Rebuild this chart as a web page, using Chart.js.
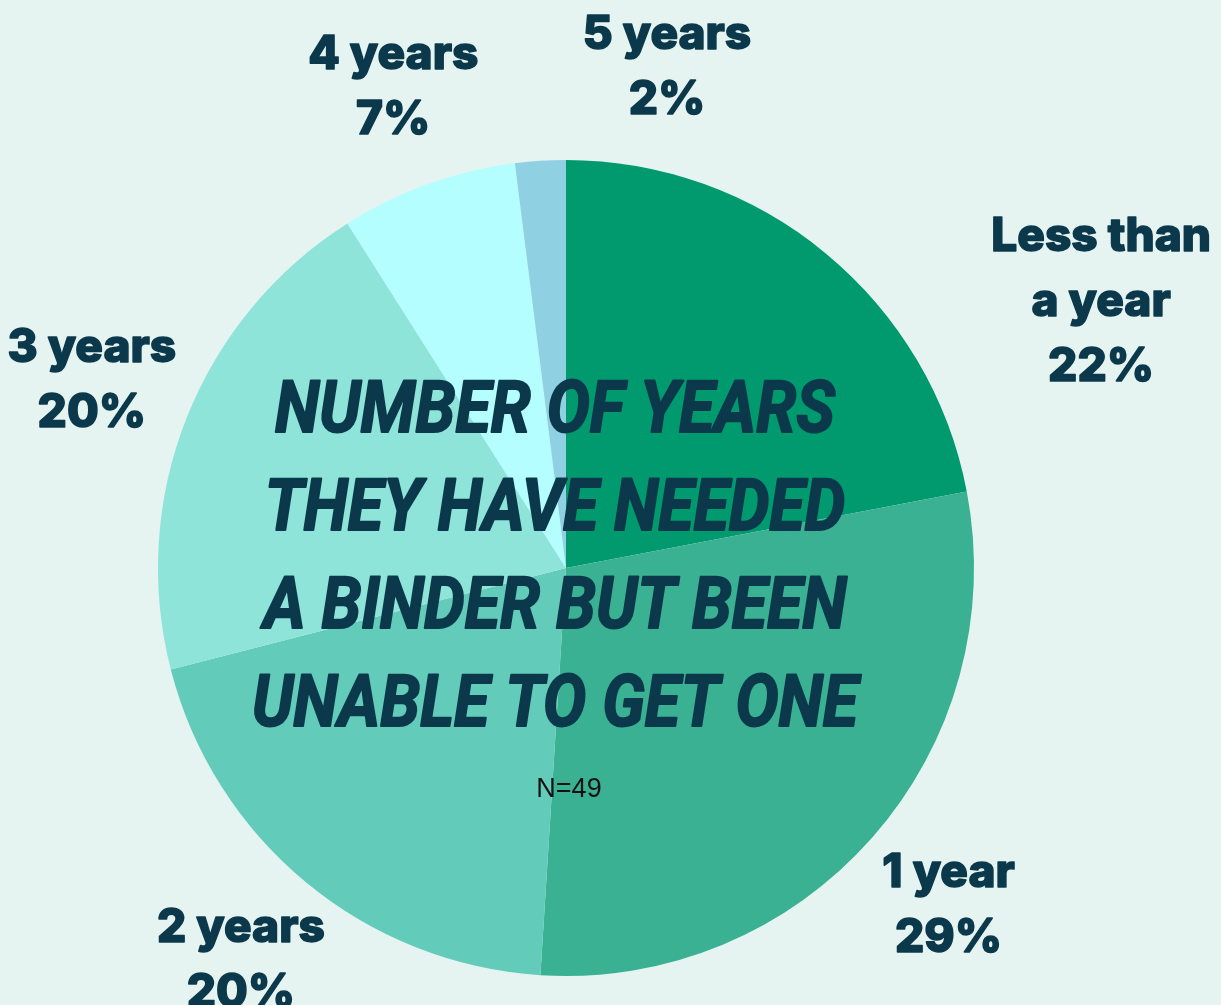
<!DOCTYPE html>
<html>
<head>
<meta charset="utf-8">
<script src="https://cdn.jsdelivr.net/npm/chart.js@4.4.1/dist/chart.umd.min.js"></script>
<style>
  html, body { margin: 0; padding: 0; background: #e5f3f1; }
  #wrap { width: 1221px; height: 1005px; position: relative; }
</style>
</head>
<body>
<div id="wrap"><canvas id="pie"></canvas></div>
<script>
// data
const categories = ['Less than\na year', '1 year', '2 years', '3 years', '4 years', '5 years'];
const percents = [22, 29, 20, 20, 7, 2];
const sliceColors = ['#009a6e', '#3ab193', '#62cbb9', '#8fe4da', '#b4feff', '#8fd1e2'];
const titleLines = ['NUMBER OF YEARS', 'THEY HAVE NEEDED', 'A BINDER BUT BEEN', 'UNABLE TO GET ONE'];
const sampleNote = 'N=49';

// extra nudges for the two labels that were moved off the radial line
const labelNudge = [[210, 127], [0, 0], [0, 0], [0, 0], [0, 0], [133, 9]];

const textColor = '#0b394b';

const outsideLabels = {
    id: 'outsideLabels',
    afterDraw(chart) {
        const ctx = chart.ctx;
        const arcs = chart.getDatasetMeta(0).data;
        const cx = arcs[0].x, cy = arcs[0].y;
        const r = arcs[0].outerRadius;

        // title in the middle of the pie
        ctx.save();
        ctx.fillStyle = textColor;
        ctx.strokeStyle = textColor;
        ctx.lineWidth = 2;
        ctx.lineJoin = 'round';
        ctx.font = 'italic 700 72px Roboto, "DejaVu Sans", sans-serif';
        ctx.textAlign = 'center';
        ctx.textBaseline = 'middle';
        let widest = 0;
        titleLines.forEach(t => { widest = Math.max(widest, ctx.measureText(t).width); });
        const sx = 606 / widest;
        ctx.translate(cx - 11, cy);
        ctx.scale(sx, 1);
        titleLines.forEach((t, i) => {
            ctx.fillText(t, 0, -154 + i * 98);
            ctx.strokeText(t, 0, -154 + i * 98);
        });
        ctx.restore();

        // sample size
        ctx.save();
        ctx.fillStyle = '#111';
        ctx.font = '27px "Liberation Sans", Arial, sans-serif';
        ctx.textAlign = 'center';
        ctx.textBaseline = 'middle';
        ctx.fillText(sampleNote, cx + 3, cy + 222);
        ctx.restore();

        // slice labels outside the pie
        ctx.save();
        ctx.fillStyle = textColor;
        ctx.strokeStyle = textColor;
        ctx.lineWidth = 1.5;
        ctx.lineJoin = 'round';
        ctx.font = '800 46px Inter, "DejaVu Sans", sans-serif';
        ctx.textAlign = 'center';
        ctx.textBaseline = 'middle';
        arcs.forEach((arc, i) => {
            const mid = (arc.startAngle + arc.endAngle) / 2;
            const x = cx + Math.cos(mid) * r * 1.25 + labelNudge[i][0];
            const y = cy + Math.sin(mid) * r * 1.25 + labelNudge[i][1];
            const lines = categories[i].split('\n').concat(percents[i] + '%');
            const lh = 65;
            const top = y - (lines.length - 1) * lh / 2;
            lines.forEach((t, j) => {
                ctx.fillText(t, x, top + j * lh);
                ctx.strokeText(t, x, top + j * lh);
            });
        });
        ctx.restore();
    }
};

new Chart(document.getElementById('pie'), {
    type: 'pie',
    data: {
        labels: categories,
        datasets: [{
            data: percents,
            backgroundColor: sliceColors,
            borderWidth: 0
        }]
    },
    options: {
        responsive: true,
        maintainAspectRatio: false,
        animation: false,
        layout: { padding: { left: 158, right: 247, top: 160, bottom: 29 } },
        plugins: {
            legend: { display: false },
            tooltip: { enabled: false }
        }
    },
    plugins: [outsideLabels]
});
</script>
</body>
</html>
